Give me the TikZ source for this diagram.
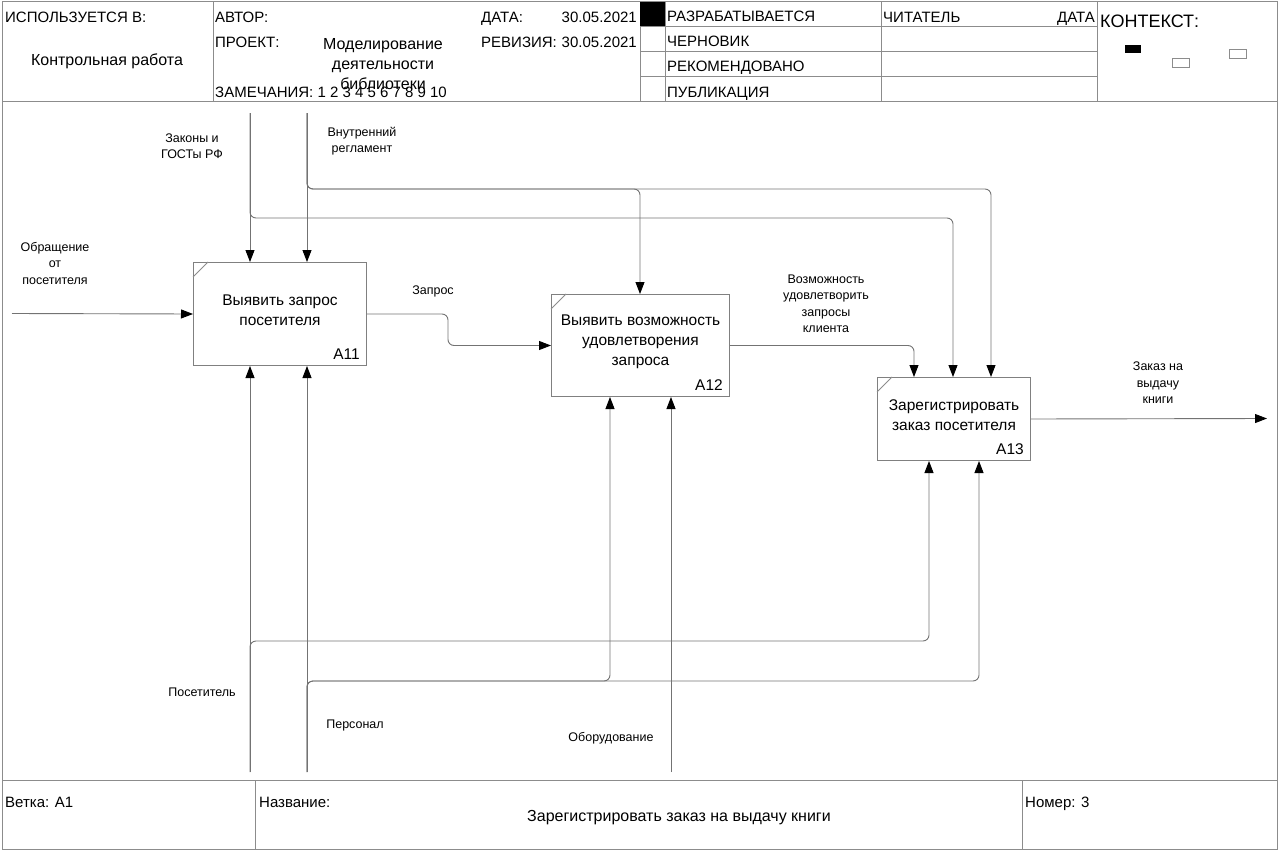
\documentclass[tikz,border=0pt]{standalone}
\usepackage{fontspec}
\setmainfont{Liberation Sans}
\usetikzlibrary{arrows.meta}

\begin{document}
\begin{tikzpicture}[x=1pt,y=-1pt,
    frameline/.style={draw=black!45,line width=1pt},
    conn/.style={draw=black!55,line width=0.9pt,rounded corners=6pt,-{Triangle[length=12pt,width=9pt,color=black]}},
    func/.style={draw=black!50,line width=1pt,anchor=north west,inner sep=0pt},
    functext/.style={align=center,inner sep=0pt,font=\fontsize{15.5}{20}\selectfont},
    funcid/.style={anchor=south east,inner xsep=7pt,inner ysep=6pt,font=\fontsize{15.5}{18}\selectfont},
    hdr/.style={anchor=base west,inner sep=0pt,font=\fontsize{15}{20}\selectfont},
    hdrbig/.style={inner sep=0pt,align=center,font=\fontsize{16}{20}\selectfont},
    lbl/.style={align=center,inner sep=0pt,font=\fontsize{12.5}{16.5}\selectfont}]
    \useasboundingbox (0,0) rectangle (1280,851);
    \draw[frameline] (2,2) rectangle (1277,849);
    \draw[frameline] (2,101) -- (1277,101) (2,780) -- (1277,780);
    \foreach \x in {213,640,665,881,1097} { \draw[frameline] (\x,2) -- (\x,101); }
    \foreach \y in {27,52,77} { \draw[frameline] (640,\y) -- (1097,\y); }
    \foreach \x in {255,1022} { \draw[frameline] (\x,780) -- (\x,849); }
    \fill (640,2) rectangle (665,26);
    \fill (1125,45) rectangle (1141,53);
    \draw[frameline,line width=0.8pt] (1172,58) rectangle (1189,67) (1229,49) rectangle (1246,58);

    \node[hdr] (usedat) at (5,23) {ИСПОЛЬЗУЕТСЯ В:};
    \node[hdrbig,anchor=base] (usedin) at (107,66) {Контрольная работа};
    \node[hdr] (author) at (215,23) {АВТОР:};
    \node[hdr] (project) at (215,48) {ПРОЕКТ:};
    \node[hdrbig] (projname) at (383,64) {Моделирование\\деятельности\\библиотеки};
    \node[hdr] (notes) at (215,97) {ЗАМЕЧАНИЯ: 1 2 3 4 5 6 7 8 9 10};
    \node[hdr] (date) at (481,23) {ДАТА:};
    \node[hdr,anchor=base east] (dateval) at (637,23) {30.05.2021};
    \node[hdr] (rev) at (481,48) {РЕВИЗИЯ:};
    \node[hdr,anchor=base east] (revval) at (637,48) {30.05.2021};
    \foreach \t [count=\i] in {РАЗРАБАТЫВАЕТСЯ,ЧЕРНОВИК,РЕКОМЕНДОВАНО,ПУБЛИКАЦИЯ} { \node[hdr] (state\i) at (667,25*\i-3) {\t}; }
    \node[hdr] (reader) at (883,23) {ЧИТАТЕЛЬ};
    \node[hdr,anchor=base east] (readerdate) at (1095,23) {ДАТА};
    \node[hdr,font=\fontsize{18}{20}\selectfont] (context) at (1100,28) {КОНТЕКСТ:};

    \node[func,minimum width=173pt,minimum height=103pt] (a11) at (193,262) {};
    \node[func,minimum width=178pt,minimum height=102pt] (a12) at (551,294) {};
    \node[func,minimum width=153pt,minimum height=83pt] (a13) at (877,377) {};
    \foreach \b/\t/\s in {a11/A11/{Выявить запрос\\посетителя},a12/A12/{Выявить возможность\\удовлетворения\\запроса},a13/A13/{Зарегистрировать\\заказ посетителя}} {
        \node[functext] (\b-t) at ([yshift=4pt]\b.center) {\s};
        \node[funcid] (\b-id) at (\b.south east) {\t};
        \draw[frameline] ([yshift=-15pt]\b.north west) -- ([xshift=15pt]\b.north west);
    }

    \coordinate (in1) at (12,313.5);
    \coordinate (out1) at (1267,418.5);
    \coordinate (c1) at (250,113);
    \coordinate (c2) at (307,113);
    \coordinate (m1) at (250,772);
    \coordinate (m2) at (307,772);
    \coordinate (m3) at (671,772);
    \coordinate (k1) at (953,218);
    \coordinate (k2) at (640,189);
    \coordinate (k3) at (991,189);
    \coordinate (k4) at (929,641);
    \coordinate (k5) at (610,681);
    \coordinate (k6) at (979,681);

    \draw[conn] (in1) -- (a11.west);
    \draw[conn] (a11.east) -| (448,330) |- (a12.west);
    \draw[conn] (a12.east) -| ([xshift=37pt]a13.north west);
    \draw[conn] (a13.east) -- (out1);
    \foreach \s in {c1,c2} { \draw[conn] (\s) -- (\s |- a11.north); }
    \foreach \s/\k/\t in {c1/k1/a13,c2/k2/a12,c2/k3/a13} { \draw[conn] (\s) |- (\k) -- (\k |- \t.north); }
    \foreach \s in {m1,m2} { \draw[conn] (\s) -- (\s |- a11.south); }
    \draw[conn] (m3) -- (m3 |- a12.south);
    \foreach \s/\k/\t in {m1/k4/a13,m2/k5/a12,m2/k6/a13} { \draw[conn] (\s) |- (\k) -- (\k |- \t.south); }

    \node[lbl] (l-in) at (55,263) {Обращение\\от\\посетителя};
    \node[lbl] (l-c1) at (192,146) {Законы и\\ГОСТы РФ};
    \node[lbl] (l-c2) at (362,141) {Внутренний\\регламент};
    \node[lbl] (l-o1) at (433,291) {Запрос};
    \node[lbl] (l-o2) at (826,304) {Возможность\\удовлетворить\\запросы\\клиента};
    \node[lbl] (l-out) at (1158,383) {Заказ на\\выдачу\\книги};
    \node[lbl] (l-m1) at (202,692) {Посетитель};
    \node[lbl] (l-m2) at (355,725) {Персонал};
    \node[lbl] (l-m3) at (611,738) {Оборудование};

    \node[hdr] (branch) at (5,807) {Ветка: А1};
    \node[hdr] (title) at (259,807) {Название:};
    \node[hdrbig] (titleval) at (679,818) {Зарегистрировать заказ на выдачу книги};
    \node[hdr] (number) at (1025,807) {Номер: 3};
\end{tikzpicture}
\end{document}
